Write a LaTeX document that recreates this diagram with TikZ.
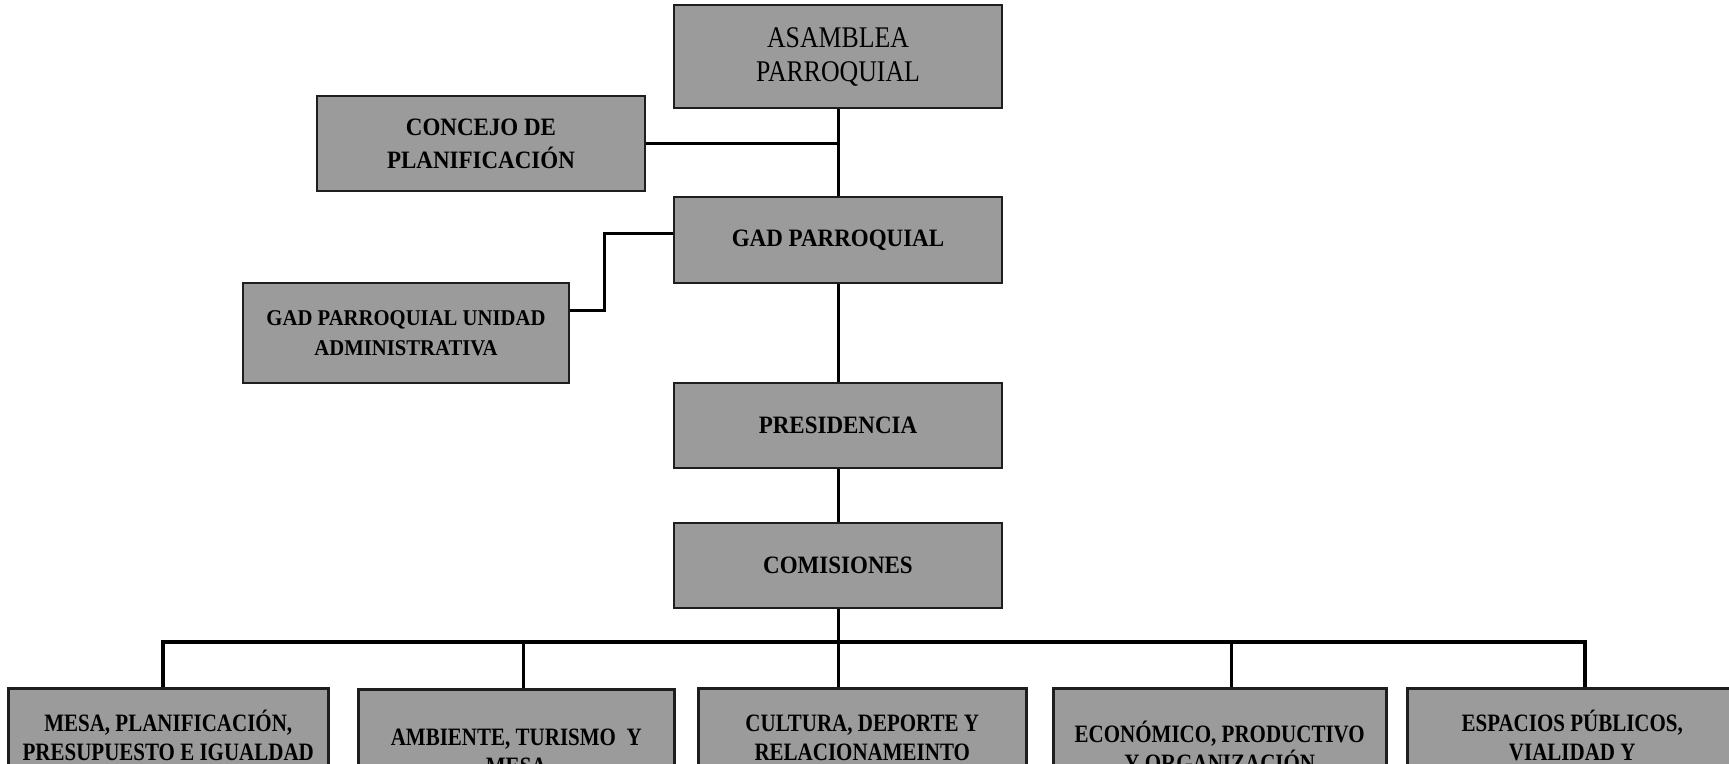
\documentclass[tikz,border=0pt]{standalone}
\usepackage{fontspec}
\setmainfont{Liberation Serif}
\newfontfamily\ctrfont[FakeStretch=0.92]{Liberation Serif}
\newfontfamily\botfont[FakeStretch=0.84]{Liberation Serif}
\newfontfamily\topfont[FakeStretch=0.86]{Liberation Serif}
\definecolor{boxgray}{RGB}{155,155,155}
\definecolor{edgecol}{RGB}{30,30,30}
\newcommand\firstline{\rule{0pt}{26pt}}
\begin{document}
\begin{tikzpicture}[x=1pt,y=-1pt,
  box/.style={draw=edgecol,line width=2.5pt,fill=boxgray,inner sep=0pt,align=center,minimum width=327pt},
  ctr/.style={box,font=\ctrfont\bfseries\fontsize{25}{33}\selectfont},
  botbox/.style={draw=edgecol,line width=2.5pt,fill=boxgray,anchor=north west,inner sep=0pt,minimum height=130pt},
  bottext/.style={anchor=north,inner sep=0pt,align=center,font=\botfont\bfseries\fontsize{25}{29}\selectfont},
  link/.style={line width=3pt,black},
  busline/.style={line width=4pt,black,line join=miter}]
\useasboundingbox (0,0) rectangle (1729,763);
\clip (0,0) rectangle (1729,763);

% central column
\node[box,minimum width=328pt,minimum height=103pt,font=\topfont\fontsize{30}{34}\selectfont] (asam) at (838,56.5) {ASAMBLEA\\PARROQUIAL};
\node[ctr,minimum width=328pt,minimum height=95pt] (conc) at (481,143.5) {CONCEJO DE\\PLANIFICACIÓN};
\node[ctr,minimum width=328pt,minimum height=86pt] (gad) at (838,240) {GAD PARROQUIAL};
\node[box,minimum width=326pt,minimum height=100pt,font=\ctrfont\bfseries\fontsize{22.5}{30}\selectfont] (unid) at (406,333) {GAD PARROQUIAL UNIDAD\\ADMINISTRATIVA};
\node[ctr,minimum width=328pt,minimum height=85pt] (pres) at (838,425.5) {PRESIDENCIA};
\node[ctr,minimum width=328pt,minimum height=85pt] (comi) at (838,565.5) {COMISIONES};

% bottom row
\node[botbox,minimum width=320pt] (b1) at (7,687) {};
\node[botbox,minimum width=316pt] (b2) at (357,688) {};
\node[botbox,minimum width=328pt] (b3) at (697,687) {};
\node[botbox,minimum width=333pt] (b4) at (1052,687) {};
\node[botbox,minimum width=330pt] (b5) at (1406,687) {};

\node[bottext] (t1) at ([yshift=-18pt]b1.north) {\firstline MESA, PLANIFICACIÓN,\\PRESUPUESTO E IGUALDAD};
\node[bottext] (t2) at ([yshift=-31pt]b2.north) {\firstline AMBIENTE, TURISMO~ Y\\MESA};
\node[bottext] (t3) at ([yshift=-18pt]b3.north) {\firstline CULTURA, DEPORTE Y\\RELACIONAMEINTO};
\node[bottext] (t4) at ([yshift=-29pt]b4.north) {\firstline ECONÓMICO, PRODUCTIVO\\Y ORGANIZACIÓN};
\node[bottext] (t5) at ([yshift=-18pt]b5.north) {\firstline ESPACIOS PÚBLICOS,\\VIALIDAD Y};

% connectors
\draw[link] (asam.south) -- (gad.north);
\draw[link] (conc.east) -- (conc.east -| asam.south);
\draw[link] ([yshift=7pt]gad.west) -- ++(-68,0) |- ([yshift=23pt]unid.east);
\draw[link] (gad.south) -- (pres.north);
\draw[link] (pres.south) -- (comi.north);

\coordinate (busL) at (163,642);
\coordinate (busR) at (1585,642);
\coordinate (d2) at (523,642);
\coordinate (d3) at (comi.south |- busL);
\coordinate (d4) at (1231,642);

\draw[busline] (busL |- b1.north) -- (busL) -- (busR) -- (busR |- b5.north);
\draw[link] (comi.south) -- (d3) -- (d3 |- b3.north);
\draw[link] (d2) -- (d2 |- b2.north);
\draw[link] (d4) -- (d4 |- b4.north);
\end{tikzpicture}
\end{document}
